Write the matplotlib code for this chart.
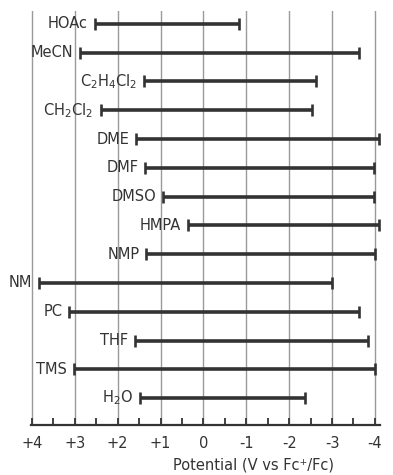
"""Ventanas de potencial de solventes (V vs Fc+/Fc)."""

import matplotlib

matplotlib.use("Agg")
import matplotlib.pyplot as plt

# Solventes de arriba hacia abajo, con limite anodico (+) y catodico (-).
SOLVENTS = ["HOAc", "MeCN", r"C$_2$H$_4$Cl$_2$", r"CH$_2$Cl$_2$", "DME", "DMF", "DMSO",
            "HMPA", "NMP", "NM", "PC", "THF", "TMS", r"H$_2$O"]
ANODIC = [2.53, 2.88, 1.39, 2.40, 1.57, 1.36, 0.94, 0.36, 1.33, 3.84, 3.13, 1.60, 3.02, 1.48]
CATHODIC = [-0.84, -3.62, -2.63, -2.53, -4.10, -3.98, -3.98, -4.10, -4.00, -3.00, -3.62, -3.84, -4.00, -2.37]
TICKS = [4, 3, 2, 1, 0, -1, -2, -3, -4]
TICK_LABELS = ["+4", "+3", "+2", "+1", "0", "-1", "-2", "-3", "-4"]

INK = "#333333"
GRID = "#9a9a9a"


def main() -> None:
    fig = plt.figure(figsize=(3.93, 4.75), dpi=100)
    ax = fig.add_axes([0.078, 0.105, 0.889, 0.872])

    rows = list(range(len(SOLVENTS)))
    for x in TICKS:
        ax.axvline(x, color=GRID, lw=1.0, zorder=0)

    centers = [(a + c) / 2 for a, c in zip(ANODIC, CATHODIC)]
    halves = [(a - c) / 2 for a, c in zip(ANODIC, CATHODIC)]
    ax.errorbar(centers, rows, xerr=halves, fmt="none", ecolor=INK,
                elinewidth=2.6, capsize=4, capthick=1.9, zorder=3)

    for y, name, a in zip(rows, SOLVENTS, ANODIC):
        ax.annotate(name, (a, y), xytext=(-5, 0), textcoords="offset points",
                    ha="right", va="center", fontsize=10.5, color=INK)

    ax.set_xlim(4.03, -4.12)
    ax.set_ylim(13.94, -0.45)
    ax.set_xticks(TICKS)
    ax.set_xticklabels(TICK_LABELS)
    ax.set_xticks([4 - 0.5 - i for i in range(8)], minor=True)
    ax.set_yticks([])
    for side in ("top", "left", "right"):
        ax.spines[side].set_visible(False)
    ax.spines["bottom"].set_color(INK)
    ax.spines["bottom"].set_linewidth(1.6)
    ax.tick_params(axis="x", which="both", direction="in", length=5, width=1.3,
                   color=INK, labelcolor=INK, labelsize=10.5, pad=8)

    fig.text(0.646, 0.021, "Potential (V vs Fc\u207a/Fc)", ha="center", va="center",
             fontsize=10.5, color=INK)

    fig.savefig("out.png", dpi=100)
    plt.close(fig)


if __name__ == "__main__":
    main()
